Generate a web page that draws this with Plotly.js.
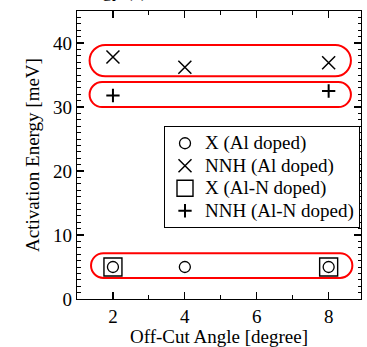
<!DOCTYPE html>
<html>
<head>
<meta charset="utf-8">
<script src="https://cdn.plot.ly/plotly-3.0.1.min.js"></script>
<style>
  html, body { margin: 0; padding: 0; background: #fff; }
  #chart { width: 367px; height: 347px; }
</style>
</head>
<body>
<div id="chart"></div>
<script>
// ---- data ----
const xAlX = [2, 4, 8];
const yAlX = [5.0, 5.0, 5.0];
const xAlNNH = [2, 4, 8];
const yAlNNH = [37.8, 36.2, 36.9];
const xAlNX = [2, 8];
const yAlNX = [5.0, 5.0];
const xAlNNNH = [2, 8];
const yAlNNNH = [31.8, 32.5];
const seriesNames = ['X (Al doped)', 'NNH (Al doped)', 'X (Al-N doped)', 'NNH (Al-N doped)'];

// highlight groups (red rounded boxes), in data units
const groupXLeft  = [1.35, 1.35, 1.39];
const groupXRight = [8.62, 8.62, 8.66];
const groupYLow   = [34.8, 30.0, 3.3];
const groupYHigh  = [39.7, 33.9, 7.15];

// ---- layout constants ----
const W = 367, H = 347;
const M = {l: 77, r: 6, t: 11, b: 48};
const xr = [1, 8.9], yr = [0, 45];
const plotW = W - M.l - M.r, plotH = H - M.t - M.b;
const pxPerX = plotW / (xr[1] - xr[0]);
const pxPerY = plotH / (yr[1] - yr[0]);
const FONT = 'Liberation Serif, Times New Roman, serif';

function stadium(x0, x1, y0, y1) {
  const yc = (y0 + y1) / 2, ry = (y1 - y0) / 2;
  const rx = ry * pxPerY / pxPerX;
  const k = 0.5523;
  return 'M' + (x0 + rx) + ',' + y1 +
    ' L' + (x1 - rx) + ',' + y1 +
    ' C' + (x1 - rx + k * rx) + ',' + y1 + ' ' + x1 + ',' + (yc + k * ry) + ' ' + x1 + ',' + yc +
    ' C' + x1 + ',' + (yc - k * ry) + ' ' + (x1 - rx + k * rx) + ',' + y0 + ' ' + (x1 - rx) + ',' + y0 +
    ' L' + (x0 + rx) + ',' + y0 +
    ' C' + (x0 + rx - k * rx) + ',' + y0 + ' ' + x0 + ',' + (yc - k * ry) + ' ' + x0 + ',' + yc +
    ' C' + x0 + ',' + (yc + k * ry) + ' ' + (x0 + rx - k * rx) + ',' + y1 + ' ' + (x0 + rx) + ',' + y1 + ' Z';
}

const shapes = groupXLeft.map((x0, i) => ({
  type: 'path', xref: 'x', yref: 'y',
  path: stadium(x0, groupXRight[i], groupYLow[i], groupYHigh[i]),
  line: {color: '#ff0000', width: 2}, layer: 'below'
}));

function lg(name) { return '<span style="font-size:19px">' + name + '</span>'; }

const traces = [
  {x: xAlX, y: yAlX, name: lg(seriesNames[0]), mode: 'markers', type: 'scatter',
   marker: {symbol: 'circle-open', size: 11, color: '#000', line: {width: 1.3, color: '#000'}}},
  {x: xAlNNH, y: yAlNNH, name: lg(seriesNames[1]), mode: 'markers', type: 'scatter',
   marker: {symbol: 'x-thin-open', size: 13, color: '#000', line: {width: 1.5, color: '#000'}}},
  {x: xAlNX, y: yAlNX, name: lg(seriesNames[2]), mode: 'markers', type: 'scatter',
   marker: {symbol: 'square-open', size: 18, color: '#000', line: {width: 1.4, color: '#000'}}},
  {x: xAlNNNH, y: yAlNNNH, name: lg(seriesNames[3]), mode: 'markers', type: 'scatter',
   marker: {symbol: 'cross-thin-open', size: 9.5, color: '#000', line: {width: 2, color: '#000'}}}
];

const axisCommon = {
  showgrid: false, zeroline: false, showline: true, linecolor: '#000', linewidth: 1.3,
  mirror: 'allticks', ticks: 'inside', ticklen: 7, tickwidth: 1.2, tickcolor: '#000',
  tickfont: {family: FONT, size: 19, color: '#000'}
};

const layout = {
  width: W, height: H, margin: M,
  paper_bgcolor: '#fff', plot_bgcolor: '#fff',
  font: {family: FONT, size: 19, color: '#000'},
  showlegend: true,
  legend: {
    x: (360 - M.l) / plotW, xanchor: 'right', y: (H - M.b - 126) / plotH, yanchor: 'top',
    bordercolor: '#000', borderwidth: 1, bgcolor: '#fff',
    font: {family: FONT, size: 15, color: '#000'}, itemwidth: 30, tracegroupgap: 0
  },
  xaxis: Object.assign({}, axisCommon, {
    range: xr, tick0: 2, dtick: 2,
    minor: {dtick: 1, ticks: 'inside', ticklen: 4, tickwidth: 1, tickcolor: '#000', showgrid: false},
    title: {text: 'Off-Cut Angle [degree]', font: {family: FONT, size: 19, color: '#000'}, standoff: 6}
  }),
  yaxis: Object.assign({}, axisCommon, {
    range: yr, tick0: 0, dtick: 10,
    minor: {dtick: 1, ticks: 'inside', ticklen: 3.5, tickwidth: 1, tickcolor: '#000', showgrid: false},
    title: {text: 'Activation Energy [meV]', font: {family: FONT, size: 19, color: '#000'}, standoff: 8}
  }),
  shapes: shapes,
  annotations: [{
    text: 'Activation Energy (a)', xref: 'paper', yref: 'paper',
    x: (148 - M.l) / plotW, xanchor: 'right',
    y: 1 + (M.t - 3) / plotH, yanchor: 'bottom',
    showarrow: false, font: {family: FONT, size: 19, color: '#000'}, borderpad: 0
  }]
};

Plotly.newPlot('chart', traces, layout, {staticPlot: true, displayModeBar: false});
</script>
</body>
</html>
